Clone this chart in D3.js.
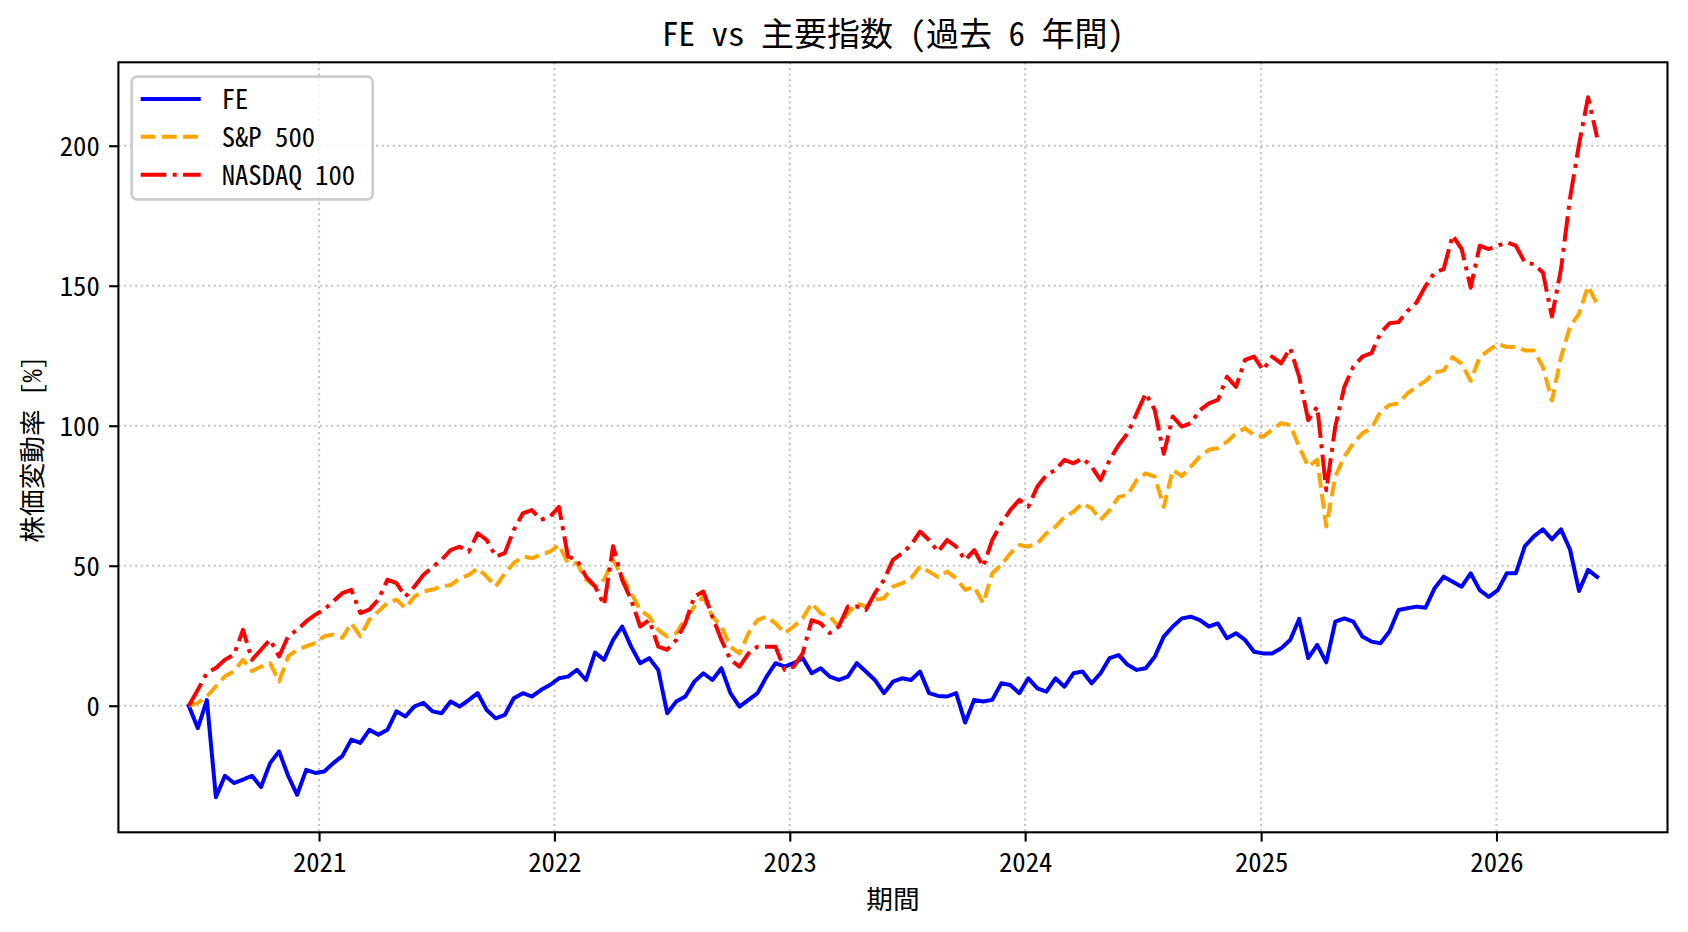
<!DOCTYPE html>
<html><head><meta charset="utf-8">
<script src="https://cdn.jsdelivr.net/npm/d3@7"></script>
<style>
body{margin:0;background:#fff;}
text{font-family:"Noto Sans Mono CJK JP","Noto Sans CJK JP",sans-serif;fill:#000;}
</style>
</head><body>
<svg id="chart" width="1688" height="932"></svg>
<script>
// ---- data (14-day samples) ----
const startDate = "2020-06-13";
const stepDays = 14;

const fe = [0,-8,2,-32.7,-25,-27.6,-26.4,-25,-29,-20.5,-16.3,-25,-31.8,-22.9,-24,-23.5,-20.5,-18,-12.1,-13.3,
-8.6,-10.4,-8.6,-2,-3.8,-0.2,1,-2,-2.7,1.5,-0.3,2,4.5,-1.5,-4.5,-3.3,2.7,4.5,3.3,5.6,
7.4,9.8,10.4,12.8,9.2,19,16.4,23.5,28.3,21.1,15.2,17,12.8,-2.7,1.5,3.3,8.6,11.6,9.2,13.4,
4.5,-0.3,2.1,4.5,10.4,15.2,14,15.2,17,11.6,13.4,10.4,9.2,10.4,15.2,12.2,9.2,4.5,8.6,9.8,
9.2,12.2,4.5,3.5,3.3,4.5,-6,2.1,1.5,2.1,8,7.4,4.5,9.8,6.2,5,9.8,6.8,11.6,12.2,
8,11.6,17,18.1,14.6,12.8,13.4,17.5,24.7,28.3,31.2,31.8,30.6,28.3,29.4,24.1,25.9,23.5,19.3,18.7,
18.7,20.5,23.5,31,17,21.7,15.5,30,31.2,30,24.7,22.9,22.3,26.5,34.2,34.8,35.4,35,42,46.1,
44.3,42.5,47.3,41.3,38.9,41.3,47.3,47.3,57,60.5,63,59.4,63,55.8,41,48.5,46];

const sp500 = [0,1,3.3,6.9,10.5,12.3,16.4,12.3,14,15.2,8.7,17.6,20,21.2,22.4,24.8,25.4,24.2,29.5,24.8,
30.7,33.7,36.7,37.9,34.9,39,40.8,41.5,42.6,43.1,45.5,46.7,49.1,46.1,42.6,47.3,50.9,53.3,52.7,53.9,
55,57.4,50.9,50.9,45,42.6,45,52.1,46.1,40.2,34.2,31.8,27.1,24.7,25.9,31,35.4,39,31.8,28.3,
21.1,18.7,25.9,30.6,31.8,29.4,25.9,28.3,31.2,36.6,33,31.8,28.3,33,36.6,35.4,37.8,38.4,42.5,43.7,
45.5,49.7,47.9,46,47.9,45.5,41.4,42.5,36.6,47.3,50.3,54.4,57.4,56.8,58,61.6,63.9,67.5,69.3,72.3,
70.5,66.4,69.9,74.6,75.2,80.6,83,81.8,71,84.2,82,85.4,89,91.4,92,94.3,97.3,99.1,96.7,96.1,
98.5,100.9,100.3,92.5,85.4,87.8,64,81.8,89,93.7,97.3,99.1,105,107.4,108,111.6,113.9,116,119,119.7,
124.5,122.1,116,124.5,126.9,129.3,128.1,128.1,126.9,126.9,120.9,109,124.5,135.4,140,149.8,143.5];

const nasdaq100 = [0,5.7,11.7,13.5,16.4,18.2,27.1,16.4,20,23.6,17.6,24.8,27.1,30.1,32.5,34.3,37.3,40.2,41.4,33.1,
34.3,37.9,45,43.8,39,42.6,46.8,49.5,52.1,55.6,56.8,55,61.6,59.2,53.3,54.5,62.8,68.7,69.9,66.4,
67.5,71,53.3,52.1,46.1,42.6,36,57,45,37.8,28.3,30.6,21.1,20,23.5,29.5,39,40.8,31.8,23.5,
16.4,14,18.7,21.1,21.1,21.1,12.8,14,18.7,30.6,29.4,25.9,28.3,35.4,35.4,34.2,40.2,44.9,52.1,54.4,
57.4,62.2,59.2,55,59.2,56.8,52,55.6,49.7,59.2,65.1,69.9,73.5,71.1,78.3,82.4,84.2,87.8,86.6,88.4,
85.4,80.6,87.8,93.1,97.3,104.4,111.6,105.6,90,103.3,99.7,100.9,105.6,108,109.2,117.5,113.9,123.5,124.7,119.9,
124.7,122.3,127.7,117.5,102,106.8,77,99.7,113.9,121.1,124.7,125.9,133,136.6,137,141,144,149.9,154.7,155.9,
168,163.1,149.3,164.3,163.1,164.3,165.5,164.3,158.3,157.7,154.7,139,155.9,181.2,200.5,217.3,203];

const seriesNames = ["FE", "S&P 500", "NASDAQ 100"];
const seriesColors = ["blue", "orange", "red"];
const yTickValues = [0, 50, 100, 150, 200];
const xTickYears = [2021, 2022, 2023, 2024, 2025, 2026];
const titleText = "FE vs 主要指数 (過去 6 年間)";
const xLabelText = "期間";
const yLabelText = "株価変動率 [%]";

// ---- layout ----
const W = 1688, H = 932;
const plot = {left: 118.4, right: 1667.5, top: 62.3, bottom: 832.3};
const FS = 26.7;

const svg = d3.select("#chart");
const t0 = d3.timeParse("%Y-%m-%d")(startDate);
const dates = fe.map((_, i) => d3.timeDay.offset(t0, i * stepDays));
const seriesVals = [fe, sp500, nasdaq100];

const xExt = d3.extent(dates);
const xPad = (xExt[1] - xExt[0]) * 0.05;
const x = d3.scaleTime()
  .domain([new Date(+xExt[0] - xPad), new Date(+xExt[1] + xPad)])
  .range([plot.left, plot.right]);

const allV = seriesVals.flat();
const yMin = d3.min(allV), yMax = d3.max(allV);
const yPad = (yMax - yMin) * 0.05;
const y = d3.scaleLinear().domain([yMin - yPad, yMax + yPad]).range([plot.bottom, plot.top]);

const xTicks = xTickYears.map(yr => new Date(yr, 0, 1));

// grid
const grid = svg.append("g").attr("stroke", "#b0b0b0").attr("stroke-opacity", 0.75)
  .attr("stroke-width", 2.1).attr("stroke-dasharray", "2.1,3.5");
grid.selectAll("line.vx").data(xTicks).join("line")
  .attr("x1", d => x(d)).attr("x2", d => x(d)).attr("y1", plot.top).attr("y2", plot.bottom);
grid.selectAll("line.hy").data(yTickValues).join("line")
  .attr("x1", plot.left).attr("x2", plot.right).attr("y1", d => y(d)).attr("y2", d => y(d));

// lines
svg.append("clipPath").attr("id", "clip").append("rect")
  .attr("x", plot.left).attr("y", plot.top).attr("width", plot.right - plot.left).attr("height", plot.bottom - plot.top);

const dashes = [null, "14.8,6.4", "25.6,6.4,4,6.4"];
const line = d3.line().x((d, i) => x(dates[i])).y(d => y(d));
const lg = svg.append("g").attr("clip-path", "url(#clip)");
seriesVals.forEach((vals, k) => {
  lg.append("path").datum(vals)
    .attr("d", line)
    .attr("fill", "none")
    .attr("stroke", seriesColors[k])
    .attr("stroke-width", 4)
    .attr("stroke-linejoin", "round")
    .attr("stroke-linecap", k === 0 ? "square" : "butt")
    .attr("stroke-dasharray", dashes[k]);
});

// axes
const xAxis = d3.axisBottom(x).tickValues(xTicks).tickFormat(d3.timeFormat("%Y")).tickSize(9.3).tickPadding(9.3);
const yAxis = d3.axisLeft(y).tickValues(yTickValues).tickFormat(d3.format("d")).tickSize(9.3).tickPadding(9.3);

const gx = svg.append("g").attr("transform", `translate(0,${plot.bottom})`).call(xAxis);
const gy = svg.append("g").attr("transform", `translate(${plot.left},0)`).call(yAxis);
[gx, gy].forEach(g => {
  g.select(".domain").remove();
  g.selectAll(".tick line").attr("stroke", "#000").attr("stroke-width", 2.1);
  g.selectAll(".tick text").attr("font-size", FS).attr("font-family", null).style("fill", "#000");
});
gx.selectAll(".tick text").attr("dy", null).attr("y", 9.3 + 9.3 + 21.2);
gy.selectAll(".tick text").attr("dy", null).attr("y", 9.8);

// spines
svg.append("rect").attr("x", plot.left).attr("y", plot.top)
  .attr("width", plot.right - plot.left).attr("height", plot.bottom - plot.top)
  .attr("fill", "none").attr("stroke", "#000").attr("stroke-width", 2.1);

// title & labels
svg.append("text").attr("x", (plot.left + plot.right) / 2).attr("y", 46)
  .attr("text-anchor", "middle").attr("font-size", 33).text(titleText);
svg.append("text").attr("x", (plot.left + plot.right) / 2).attr("y", 909)
  .attr("text-anchor", "middle").attr("font-size", FS).text(xLabelText);
svg.append("text").attr("transform", `translate(41.5,${(plot.top + plot.bottom) / 2 + 2}) rotate(-90)`)
  .attr("text-anchor", "middle").attr("font-size", FS).text(yLabelText);

// legend
const leg = svg.append("g");
leg.append("rect").attr("x", 131.7).attr("y", 76.7).attr("width", 241).attr("height", 122.6)
  .attr("rx", 5.3).attr("ry", 5.3)
  .attr("fill", "#fff").attr("fill-opacity", 0.8).attr("stroke", "#cccccc").attr("stroke-width", 2.7);
const legY = [99, 136.7, 174.7];
seriesNames.forEach((name, k) => {
  leg.append("line").attr("x1", 140.7).attr("x2", 200.7).attr("y1", legY[k]).attr("y2", legY[k])
    .attr("stroke", seriesColors[k]).attr("stroke-width", 4)
    .attr("stroke-dasharray", dashes[k]);
  leg.append("text").attr("x", 221.7).attr("y", legY[k] + 9.8).attr("font-size", FS).text(name);
});
</script>
</body></html>
